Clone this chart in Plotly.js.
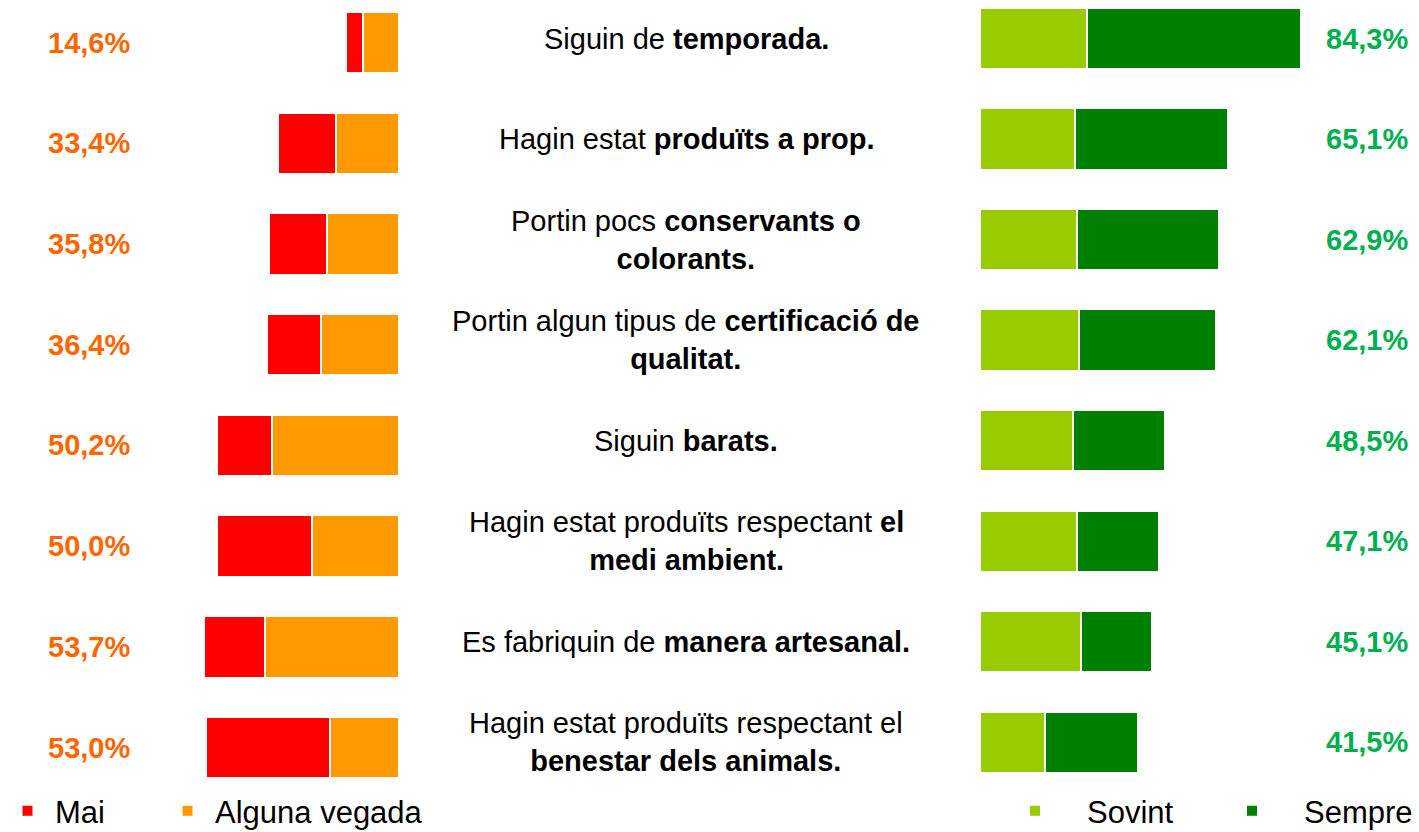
<!DOCTYPE html>
<html>
<head>
<meta charset="utf-8">
<script src="https://cdn.plot.ly/plotly-3.0.1.min.js"></script>
<style>
html,body{margin:0;padding:0;background:#ffffff;overflow:hidden}
#chart{width:1419px;height:832px}
</style>
</head>
<body>
<div id="chart"></div>
<script>
// ---- data ----
const categories = [
  "Siguin de temporada.",
  "Hagin estat produïts a prop.",
  "Portin pocs conservants o colorants.",
  "Portin algun tipus de certificació de qualitat.",
  "Siguin barats.",
  "Hagin estat produïts respectant el medi ambient.",
  "Es fabriquin de manera artesanal.",
  "Hagin estat produïts respectant el benestar dels animals."
];
const categoryLabels = [
  "Siguin de <b>temporada.</b>",
  "Hagin estat <b>produïts a prop.</b>",
  "Portin pocs <b>conservants o</b><br><b>colorants.</b>",
  "Portin algun tipus de <b>certificació de</b><br><b>qualitat.</b>",
  "Siguin <b>barats.</b>",
  "Hagin estat produïts respectant <b>el</b><br><b>medi ambient.</b>",
  "Es fabriquin de <b>manera artesanal.</b>",
  "Hagin estat produïts respectant el<br><b>benestar dels animals.</b>"
];
const mai     = [4.6, 15.9, 15.9, 14.8, 15.3, 26.1, 16.8, 34.0];
const alguna  = [10.0, 17.5, 19.9, 21.6, 34.9, 23.9, 36.9, 19.0];
const sovint  = [28.1, 25.0, 25.5, 26.0, 24.5, 25.5, 26.5, 17.1];
const sempre  = [56.2, 40.1, 37.4, 36.1, 24.0, 21.6, 18.6, 24.4];
const negTotals = [14.6, 33.4, 35.8, 36.4, 50.2, 50.0, 53.7, 53.0];
const posTotals = [84.3, 65.1, 62.9, 62.1, 48.5, 47.1, 45.1, 41.5];

// ---- styling ----
const FONT = "Liberation Sans, Arial, Helvetica, sans-serif";
const fmt = v => v.toFixed(1).replace('.', ',') + '%';
const W = 1419;
const barLine = {color: '#ffffff', width: 2};
const BW = 0.61;

const traces = [
  {type: 'bar', orientation: 'h', name: 'Alguna vegada', y: categories, x: alguna,
   xaxis: 'x', yaxis: 'y', width: BW, marker: {color: '#FF9900', line: barLine},
   legend: 'legend', legendrank: 2, legendwidth: 230, hoverinfo: 'skip'},
  {type: 'bar', orientation: 'h', name: 'Mai', y: categories, x: mai,
   xaxis: 'x', yaxis: 'y', width: BW, marker: {color: '#FF0000', line: barLine},
   legend: 'legend', legendrank: 1, legendwidth: 100, hoverinfo: 'skip'},
  {type: 'bar', orientation: 'h', name: 'Sovint', y: categories, x: sovint,
   xaxis: 'x2', yaxis: 'y2', width: BW, marker: {color: '#99CC00', line: barLine},
   legend: 'legend2', legendrank: 1, legendwidth: 108, hoverinfo: 'skip'},
  {type: 'bar', orientation: 'h', name: 'Sempre', y: categories, x: sempre,
   xaxis: 'x2', yaxis: 'y2', width: BW, marker: {color: '#008000', line: barLine},
   legend: 'legend2', legendrank: 2, legendwidth: 108, hoverinfo: 'skip'}
];

const annotations = [];
categories.forEach((c, i) => {
  annotations.push({xref: 'paper', yref: 'y2', x: 686 / W, y: c, text: categoryLabels[i],
    showarrow: false, xanchor: 'center', yanchor: 'middle', align: 'center',
    font: {family: FONT, size: 29, color: '#000000'}});
  annotations.push({xref: 'paper', yref: 'y', x: 88.5 / W, y: c, text: '<b>' + fmt(negTotals[i]) + '</b>',
    showarrow: false, xanchor: 'center', yanchor: 'middle',
    font: {family: FONT, size: 29, color: '#FF6600'}});
  annotations.push({xref: 'paper', yref: 'y2', x: 1367 / W, y: c, text: '<b>' + fmt(posTotals[i]) + '</b>',
    showarrow: false, xanchor: 'center', yanchor: 'middle',
    font: {family: FONT, size: 29, color: '#00B050'}});
});

const hiddenCat = {type: 'category', categoryorder: 'array', categoryarray: categories,
  showticklabels: false, showgrid: false, zeroline: false, showline: false, ticks: '', fixedrange: true};
const hiddenLin = {showticklabels: false, showgrid: false, zeroline: false, showline: false, ticks: '', fixedrange: true};

const legendTop = 1 - 784 / 832;

const layout = {
  width: 1419, height: 832,
  margin: {l: 0, r: 0, t: 0, b: 0, pad: 0, autoexpand: false},
  paper_bgcolor: '#ffffff', plot_bgcolor: 'rgba(0,0,0,0)',
  barmode: 'stack', bargap: 0,
  showlegend: true,
  font: {family: FONT, size: 29, color: '#000000'},
  xaxis: Object.assign({}, hiddenLin, {domain: [0, 399.3 / W], range: [399.3 / 3.64, 0], anchor: 'y'}),
  xaxis2: Object.assign({}, hiddenLin, {domain: [980 / W, 1], range: [0, 439 / 3.806], anchor: 'y2'}),
  yaxis: Object.assign({}, hiddenCat, {domain: [0, 1], range: [7.839, -0.422], anchor: 'x'}),
  yaxis2: Object.assign({}, hiddenCat, {domain: [0, 1], range: [7.892, -0.383], anchor: 'x2'}),
  legend: {orientation: 'h', x: 0, xanchor: 'left', y: legendTop, yanchor: 'top',
    font: {family: FONT, size: 31, color: '#000000'}, itemwidth: 45,
    traceorder: 'normal', bgcolor: 'rgba(0,0,0,0)', borderwidth: 0},
  legend2: {orientation: 'h', x: 983 / W, xanchor: 'left', y: legendTop, yanchor: 'top',
    font: {family: FONT, size: 31, color: '#000000'}, itemwidth: 94,
    traceorder: 'normal', bgcolor: 'rgba(0,0,0,0)', borderwidth: 0},
  annotations: annotations
};

Plotly.newPlot('chart', traces, layout, {displayModeBar: false, staticPlot: true});
</script>
</body>
</html>
